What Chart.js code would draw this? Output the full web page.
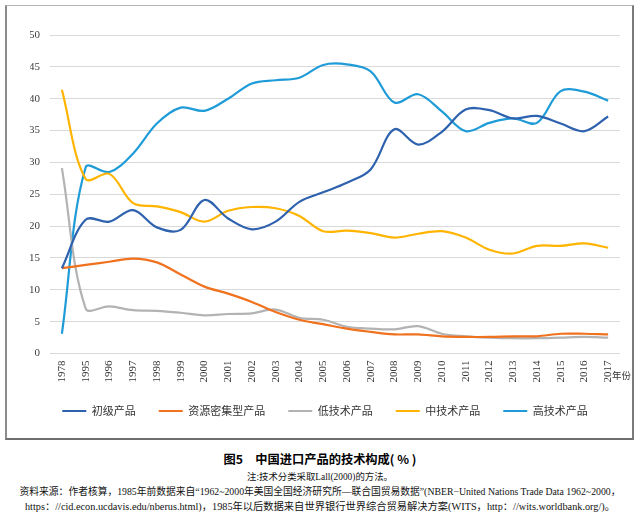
<!DOCTYPE html>
<html lang="zh-CN">
<head>
<meta charset="utf-8">
<title>图5 中国进口产品的技术构成</title>
<script src="https://cdn.jsdelivr.net/npm/chart.js@4.4.1/dist/chart.umd.min.js"></script>
<style>
  html, body { margin: 0; padding: 0; background: #fff; }
  body { width: 640px; height: 519px; position: relative; overflow: hidden; }
  /* 图表外框 */
  #frame {
    position: absolute; left: 5px; top: 5px; width: 629px; height: 435px;
    box-sizing: border-box;
    border-top: 1px solid #b4b4b4; border-left: 2px solid #8c8c8c;
    border-right: 2px solid #7a7a7a; border-bottom: 2px solid #6e6e6e;
  }
  #wrap { position: absolute; left: 0; top: 0; width: 640px; height: 430px; }
  #unit { position: absolute; left: 612px; top: 369px; font: 9.5px/12px "Noto Sans CJK SC", sans-serif; color: #333; }
  .cap {
    position: absolute; left: 0; width: 640px; text-align: center; white-space: nowrap;
    color: #111; font-family: "Liberation Serif", "Noto Sans CJK SC", serif;
  }
  #title { top: 451px; font-size: 13px; line-height: 16px; font-weight: bold; font-family: "Noto Sans CJK SC", sans-serif; color: #000; }
  #note { top: 471px; font-size: 10px; line-height: 12px; }
  #src1 { top: 486px; font-size: 10px; line-height: 12px; }
  #src2 { top: 501px; font-size: 10px; line-height: 12px; }
</style>
</head>
<body>
<div id="frame"></div>
<div id="wrap"><canvas id="techChart" width="640" height="430"></canvas></div>
<span id="unit">年份</span>
<div class="cap" id="title"><span data-w="193">图5　中国进口产品的技术构成( % )</span></div>
<div class="cap" id="note"><span data-w="146">注:技术分类采取Lall(2000)的方法。</span></div>
<div class="cap" id="src1"><span data-w="602">资料来源：作者核算，1985年前数据来自“1962~2000年美国全国经济研究所—联合国贸易数据”(NBER−United Nations Trade Data 1962~2000，</span></div>
<div class="cap" id="src2"><span data-w="590">https：//cid.econ.ucdavis.edu/nberus.html)，1985年以后数据来自世界银行世界综合贸易解决方案(WITS，http：//wits.worldbank.org/)。</span></div>

<script>
// 年份（横轴）
const years = ['1978', '1995', '1996', '1997', '1998', '1999', '2000', '2001', '2002', '2003', '2004', '2005',
  '2006', '2007', '2008', '2009', '2010', '2011', '2012', '2013', '2014', '2015', '2016', '2017'];

// 各类产品占进口比重（%）
const primaryShare = [13.4, 21.0, 20.7, 22.5, 19.8, 19.4, 24.1, 21.2, 19.5, 20.7, 23.8, 25.3,
  26.8, 28.9, 35.2, 32.8, 34.8, 38.3, 38.2, 36.9, 37.3, 36.1, 34.9, 37.2];
const resourceShare = [13.4, 13.9, 14.4, 14.9, 14.3, 12.4, 10.5, 9.4, 8.1, 6.5, 5.3, 4.6,
  3.9, 3.4, 3.0, 3.0, 2.7, 2.6, 2.6, 2.7, 2.7, 3.1, 3.1, 3.0];
const lowTechShare = [29.1, 7.1, 7.4, 6.8, 6.7, 6.4, 6.0, 6.2, 6.3, 6.9, 5.6, 5.3,
  4.2, 3.9, 3.8, 4.3, 3.1, 2.7, 2.5, 2.4, 2.4, 2.5, 2.6, 2.5];
const midTechShare = [41.4, 27.4, 28.2, 23.6, 23.1, 22.2, 20.7, 22.4, 23.0, 22.8, 21.6, 19.2,
  19.3, 18.9, 18.2, 18.8, 19.2, 18.2, 16.3, 15.7, 16.9, 16.9, 17.3, 16.6];
const highTechShare = [3.1, 29.2, 28.5, 31.4, 36.1, 38.6, 38.1, 40.0, 42.4, 42.9, 43.3, 45.3,
  45.4, 44.3, 39.4, 40.7, 38.0, 34.9, 36.2, 36.9, 36.2, 41.2, 41.1, 39.7];

// 系列名称
const seriesNames = ['初级产品', '资源密集型产品', '低技术产品', '中技术产品', '高技术产品'];

// 颜色配置
const colors = {
  primary: '#2E62AE',
  resource: '#F0711E',
  lowTech: '#B3B3B3',
  midTech: '#FFB400',
  highTech: '#1F9CD8'
};

function lineDataset(label, data, color) {
  return {
    label: label,
    data: data,
    borderColor: color,
    backgroundColor: color,
    borderWidth: 2.2,
    pointRadius: 0,
    pointHoverRadius: 0,
    tension: 0.35,
    fill: false
  };
}

const serifFont = '"Liberation Serif", "Times New Roman", serif';

new Chart(document.getElementById('techChart'), {
  type: 'line',
  data: {
    labels: years,
    datasets: [
      lineDataset(seriesNames[0], primaryShare, colors.primary),
      lineDataset(seriesNames[1], resourceShare, colors.resource),
      lineDataset(seriesNames[2], lowTechShare, colors.lowTech),
      lineDataset(seriesNames[3], midTechShare, colors.midTech),
      lineDataset(seriesNames[4], highTechShare, colors.highTech)
    ]
  },
  options: {
    responsive: false,
    animation: false,
    layout: { padding: { left: 30, right: 20, top: 35, bottom: 3.5 } },
    plugins: {
      legend: {
        position: 'bottom',
        align: 'center',
        labels: {
          boxWidth: 24,
          boxHeight: 2,
          padding: 23,
          color: '#333',
          font: { family: '"Noto Sans CJK SC", sans-serif', size: 11 },
          // 图例用细线表示
          generateLabels: (chart) => Chart.defaults.plugins.legend.labels.generateLabels(chart)
            .map(item => Object.assign(item, { lineWidth: 0, fillStyle: item.strokeStyle }))
        }
      },
      tooltip: { enabled: false }
    },
    scales: {
      x: {
        offset: true,
        grid: { display: false, drawTicks: false },
        border: { display: false },
        ticks: {
          autoSkip: false,
          minRotation: 90,
          maxRotation: 90,
          padding: 7,
          color: '#333',
          font: { family: serifFont, size: 11 }
        },
        afterFit: (scale) => { scale.height = 29; }
      },
      y: {
        min: 0,
        max: 50,
        grid: { color: '#d9d9d9', lineWidth: 1, drawTicks: false },
        border: { display: false },
        ticks: {
          stepSize: 5,
          padding: 10,
          color: '#404040',
          font: { family: serifFont, size: 11 }
        },
        afterFit: (scale) => { scale.width = 20; }
      }
    }
  }
});

// 按原图宽度调整说明文字字号
document.querySelectorAll('.cap span[data-w]').forEach(span => {
  const target = parseFloat(span.dataset.w);
  const size = parseFloat(getComputedStyle(span).fontSize);
  const w = span.getBoundingClientRect().width;
  if (w > 0) span.style.fontSize = (size * target / w).toFixed(2) + 'px';
});
</script>
</body>
</html>
